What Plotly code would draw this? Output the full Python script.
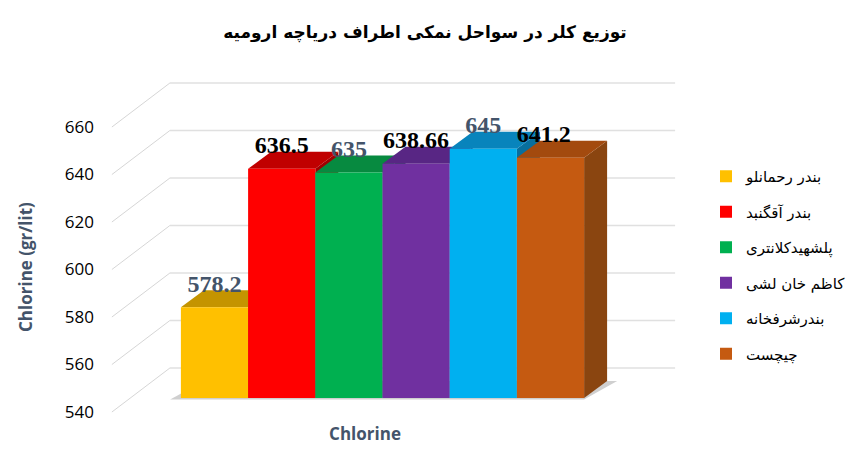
import plotly.graph_objects as go

title_text = 'توزیع کلر در سواحل نمکی اطراف دریاچه ارومیه'
stations = ['بندر رحمانلو', 'بندر آقگنبد', 'پلشهیدکلانتری', 'کاظم خان لشی', 'بندرشرفخانه', 'چیچست']
chlorine = [578.2, 636.5, 635, 638.66, 645, 641.2]
value_labels = ['578.2', '636.5', '635', '638.66', '645', '641.2']
label_colors = ['#44546a', '#000000', '#44546a', '#000000', '#44546a', '#000000']
front_colors = ['#ffc000', '#ff0000', '#00b050', '#7030a0', '#00b0f0', '#c55a11']
top_colors = ['#c49400', '#c00000', '#078a40', '#582684', '#0884bc', '#a34a0e']
side_colors = ['#a67e00', '#a00000', '#067034', '#4a1f70', '#076f9e', '#8a4510']
y_ticks = [540, 560, 580, 600, 620, 640, 660]
category_label = 'Chlorine'
y_title = 'Chlorine (gr/lit)'

# pixel scale of the chart, used to turn the fake 3d depth into axis units
px_per_bar = 67.2
px_per_unit = 2.375
depth_x = 23 / px_per_bar
depth_y = 17 / px_per_unit
base = y_ticks[0]
half = 0.5

fig = go.Figure()

# floor shadow
fig.add_trace(go.Scatter(
    x=[-half - 0.16, 5 + half, 5 + half + depth_x + 0.15, 5 + half + depth_x, -half + depth_x],
    y=[base - 0.6, base - 0.6, base + depth_y, base + depth_y, base + depth_y],
    fill='toself', fillcolor='#cfcfcf', mode='none', showlegend=False, hoverinfo='skip'))

# wall gridlines with the diagonal going back from the axis
for tick in y_ticks:
    fig.add_trace(go.Scatter(
        x=[-half - 69 / px_per_bar, -half - 11 / px_per_bar],
        y=[tick - 14 / px_per_unit, tick + 30 / px_per_unit],
        mode='lines', line=dict(color='#d6d6d6', width=1), showlegend=False, hoverinfo='skip'))
    fig.add_trace(go.Scatter(
        x=[-half - 11 / px_per_bar, 5 + half + 91 / px_per_bar],
        y=[tick + 30 / px_per_unit, tick + 30 / px_per_unit],
        mode='lines', line=dict(color='#e0e0e0', width=1.5), showlegend=False, hoverinfo='skip'))

# side and top faces, left to right so nearer ones cover farther ones
for i, value in enumerate(chlorine):
    fig.add_trace(go.Scatter(
        x=[i + half, i + half + depth_x, i + half + depth_x, i + half],
        y=[base, base + depth_y, value + depth_y, value],
        fill='toself', fillcolor=side_colors[i], mode='none', showlegend=False, hoverinfo='skip'))
    fig.add_trace(go.Scatter(
        x=[i - half, i + half, i + half + depth_x, i - half + depth_x],
        y=[value, value, value + depth_y, value + depth_y],
        fill='toself', fillcolor=top_colors[i], mode='none', showlegend=False, hoverinfo='skip'))

# front faces sit on the overlaying axes, above all the faces
for i, value in enumerate(chlorine):
    fig.add_trace(go.Bar(
        x=[i], y=[value - base], base=base, width=1, name=stations[i],
        marker=dict(color=front_colors[i], line=dict(width=0)),
        xaxis='x2', yaxis='y2', legendgroup=stations[i]))

label_shift = [0, 0, 0, 0, 0, -0.1]
fig.add_trace(go.Scatter(
    x=[i + label_shift[i] for i in range(len(chlorine))],
    y=[v + 4 for v in chlorine],
    mode='text', text=value_labels, textposition='top center',
    textfont=dict(family='Liberation Serif', size=24, color=label_colors, weight='bold'),
    xaxis='x2', yaxis='y2', showlegend=False, hoverinfo='skip', cliponaxis=False))

# the page adds an 8px body margin, so the figure is 16px smaller than the window
x_range = [-(214.5 - 100) / px_per_bar, (859 - 214.5) / px_per_bar]
y_range = [base - 24 / px_per_unit, base + 338 / px_per_unit]

fig.update_layout(
    width=851, height=442,
    margin=dict(l=92, r=0, t=52, b=28),
    paper_bgcolor='white', plot_bgcolor='white',
    barmode='overlay',
    title=dict(text=title_text, x=417 / 851, xanchor='center', y=1 - 24 / 442, yanchor='middle',
               font=dict(family='DejaVu Sans', size=17, color='black', weight='bold')),
    xaxis=dict(range=x_range, showgrid=False, zeroline=False, showline=False, ticks='',
               tickmode='array', tickvals=[(365 - 214.5) / px_per_bar], ticktext=[category_label],
               tickfont=dict(family='Open Sans', size=17, color='#44546a', weight='bold')),
    yaxis=dict(range=y_range, showgrid=False, zeroline=False, showline=False, ticks='',
               tickmode='array', tickvals=y_ticks, ticklabelshift=14, ticklabelstandoff=5,
               tickfont=dict(family='Open Sans', size=17, color='black')),
    xaxis2=dict(range=x_range, overlaying='x', visible=False),
    yaxis2=dict(range=y_range, overlaying='y', visible=False),
    annotations=[dict(text=y_title, textangle=-90, showarrow=False,
                      xref='paper', yref='paper', x=(25 - 100) / 759, y=(422 - 267) / 362,
                      xanchor='center', yanchor='middle',
                      font=dict(family='Open Sans', size=17, color='#44546a', weight='bold'))],
    legend=dict(x=(706 - 100) / 759, y=(422 - 160) / 362, xanchor='left', yanchor='top',
                tracegroupgap=13, font=dict(family='DejaVu Sans', size=15, color='black'),
                bgcolor='rgba(0,0,0,0)', itemclick=False, itemdoubleclick=False),
)

fig.write_html("out.html")
